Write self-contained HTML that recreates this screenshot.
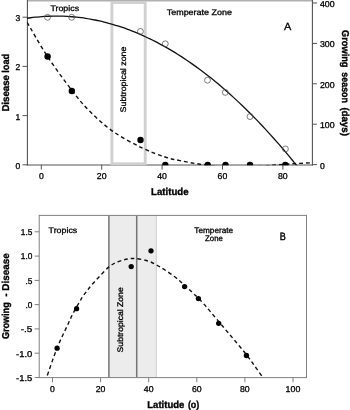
<!DOCTYPE html>
<html><head><meta charset="utf-8"><title>chart</title>
<style>
html,body{margin:0;padding:0;background:#fff;}
body{width:350px;height:410px;overflow:hidden;}
svg{display:block;will-change:transform;text-rendering:geometricPrecision;font-family:"Liberation Sans",sans-serif;}
.t{font-size:8.5px;fill:#000;stroke:#000;stroke-width:0.3px;}
.b{font-size:10.0px;font-weight:bold;fill:#000;stroke:#000;stroke-width:0.35px;}
.z{font-size:8.1px;fill:#000;stroke:#000;stroke-width:0.3px;}
.l{fill:#000;}
</style></head><body>
<svg width="350" height="410" viewBox="0 0 350 410">
<rect width="350" height="410" fill="#fff"/>
<defs>
<clipPath id="ca"><rect x="27.0" y="0" width="285.5" height="165.2"/></clipPath>
<clipPath id="cb"><rect x="39.2" y="215.4" width="267.3" height="162.2"/></clipPath>
</defs>
<!-- Plot A -->
<g stroke="#555" stroke-width="1" fill="none">
<path d="M27.0 0.6H312.5" stroke="#b0b0b0" stroke-width="2"/>
<path d="M26.7 165H312.8" stroke="#8c8c8c" stroke-width="1.3"/>
<path d="M27.4 0V165.6M312.4 0V165.6" stroke="#4d4d4d" stroke-width="1.05"/>
<path d="M22.5 164.8H27.0"/>
<path d="M22.5 115.6H27.0"/>
<path d="M22.5 66.4H27.0"/>
<path d="M22.5 17.2H27.0"/>
<path d="M312.5 164.6H317.0"/>
<path d="M312.5 124.2H317.0"/>
<path d="M312.5 83.8H317.0"/>
<path d="M312.5 43.4H317.0"/>
<path d="M312.5 3.0H317.0"/>
<path d="M41.3 164.8V169.6"/>
<path d="M101.7 164.8V169.6"/>
<path d="M162.1 164.8V169.6"/>
<path d="M222.5 164.8V169.6"/>
<path d="M282.9 164.8V169.6"/>
</g>
<rect x="111.9" y="2.5" width="33.3" height="161.3" fill="none" stroke="#d0d0d0" stroke-width="2.9"/>
<g clip-path="url(#ca)">
<path d="M26.00 18.42 C26.77 18.31 29.06 17.97 30.59 17.76 C32.12 17.56 33.66 17.38 35.19 17.22 C36.72 17.05 38.25 16.91 39.78 16.78 C41.31 16.65 42.84 16.54 44.37 16.45 C45.90 16.36 47.44 16.28 48.97 16.23 C50.50 16.17 52.03 16.13 53.56 16.12 C55.09 16.10 56.62 16.09 58.15 16.11 C59.68 16.13 61.21 16.16 62.75 16.22 C64.28 16.27 65.81 16.34 67.34 16.43 C68.87 16.52 70.40 16.63 71.93 16.75 C73.46 16.88 74.99 17.02 76.53 17.19 C78.06 17.35 79.59 17.53 81.12 17.73 C82.65 17.93 84.18 18.14 85.71 18.38 C87.24 18.61 88.77 18.86 90.31 19.14 C91.84 19.41 93.37 19.70 94.90 20.00 C96.43 20.31 97.96 20.63 99.49 20.98 C101.02 21.32 102.55 21.68 104.08 22.06 C105.62 22.44 107.15 22.84 108.68 23.26 C110.21 23.67 111.74 24.11 113.27 24.56 C114.80 25.01 116.33 25.48 117.86 25.97 C119.40 26.46 120.93 26.97 122.46 27.49 C123.99 28.02 125.52 28.56 127.05 29.12 C128.58 29.68 130.11 30.26 131.64 30.86 C133.18 31.45 134.71 32.07 136.24 32.70 C137.77 33.34 139.30 33.99 140.83 34.66 C142.36 35.33 143.89 36.02 145.42 36.72 C146.95 37.43 148.49 38.15 150.02 38.90 C151.55 39.64 153.08 40.40 154.61 41.18 C156.14 41.96 157.67 42.75 159.20 43.57 C160.73 44.38 162.27 45.22 163.80 46.07 C165.33 46.92 166.86 47.79 168.39 48.68 C169.92 49.56 171.45 50.47 172.98 51.39 C174.51 52.32 176.05 53.26 177.58 54.22 C179.11 55.18 180.64 56.16 182.17 57.15 C183.70 58.15 185.23 59.17 186.76 60.20 C188.29 61.23 189.82 62.28 191.36 63.35 C192.89 64.42 194.42 65.51 195.95 66.61 C197.48 67.72 199.01 68.84 200.54 69.98 C202.07 71.12 203.60 72.28 205.14 73.46 C206.67 74.64 208.20 75.83 209.73 77.05 C211.26 78.26 212.79 79.49 214.32 80.74 C215.85 82.00 217.38 83.26 218.92 84.55 C220.45 85.84 221.98 87.14 223.51 88.46 C225.04 89.79 226.57 91.13 228.10 92.49 C229.63 93.85 231.16 95.22 232.69 96.62 C234.23 98.01 235.76 99.43 237.29 100.86 C238.82 102.29 240.35 103.74 241.88 105.21 C243.41 106.68 244.94 108.16 246.47 109.67 C248.01 111.17 249.54 112.69 251.07 114.23 C252.60 115.78 254.13 117.33 255.66 118.91 C257.19 120.49 258.72 122.08 260.25 123.70 C261.79 125.31 263.32 126.94 264.85 128.59 C266.38 130.24 267.91 131.91 269.44 133.59 C270.97 135.28 272.50 136.98 274.03 138.70 C275.56 140.42 277.10 142.16 278.63 143.92 C280.16 145.68 281.69 147.46 283.22 149.25 C284.75 151.05 286.28 152.86 287.81 154.69 C289.34 156.52 290.88 158.37 292.41 160.24 C293.94 162.10 296.23 164.95 297.00 165.89" fill="none" stroke="#111" stroke-width="1.3"/>
<path d="M27.10 22.30 C30.50 28.00 40.02 45.13 47.50 56.50 C54.98 67.87 64.92 81.32 72.00 90.50 C79.08 99.68 83.17 104.78 90.00 111.60 C96.83 118.42 104.43 125.40 113.00 131.40 C121.57 137.40 132.73 143.33 141.40 147.60 C150.07 151.87 158.57 154.83 165.00 157.00 C171.43 159.17 174.17 159.40 180.00 160.60 C185.83 161.80 192.50 163.13 200.00 164.20 C207.50 165.27 216.67 166.53 225.00 167.00 C233.33 167.47 241.67 167.33 250.00 167.00 C258.33 166.67 267.50 165.57 275.00 165.00 C282.50 164.43 288.83 163.97 295.00 163.60 C301.17 163.23 309.17 162.93 312.00 162.80" fill="none" stroke="#111" stroke-width="1.4" stroke-dasharray="3.8 3.0"/>
</g>
<circle cx="47.5" cy="17.3" r="2.95" fill="none" stroke="#505050" stroke-width="0.75"/>
<circle cx="71.7" cy="17.3" r="2.95" fill="none" stroke="#505050" stroke-width="0.75"/>
<circle cx="140.4" cy="31.4" r="2.95" fill="none" stroke="#505050" stroke-width="0.75"/>
<circle cx="165.3" cy="43.8" r="2.95" fill="none" stroke="#505050" stroke-width="0.75"/>
<circle cx="207.5" cy="80.2" r="2.95" fill="none" stroke="#505050" stroke-width="0.75"/>
<circle cx="225.3" cy="92.4" r="2.95" fill="none" stroke="#505050" stroke-width="0.75"/>
<circle cx="250.0" cy="116.6" r="2.95" fill="none" stroke="#505050" stroke-width="0.75"/>
<circle cx="285.4" cy="148.9" r="2.95" fill="none" stroke="#505050" stroke-width="0.75"/>
<circle cx="47.6" cy="56.5" r="3.2" fill="#000" clip-path="url(#ca)"/>
<circle cx="71.8" cy="91.0" r="3.2" fill="#000" clip-path="url(#ca)"/>
<circle cx="140.5" cy="140.0" r="3.2" fill="#000" clip-path="url(#ca)"/>
<circle cx="165.3" cy="165.0" r="3.2" fill="#000" clip-path="url(#ca)"/>
<circle cx="207.7" cy="165.0" r="3.2" fill="#000" clip-path="url(#ca)"/>
<circle cx="225.5" cy="165.0" r="3.2" fill="#000" clip-path="url(#ca)"/>
<circle cx="250.0" cy="165.0" r="3.2" fill="#000" clip-path="url(#ca)"/>
<circle cx="285.3" cy="165.0" r="3.2" fill="#000" clip-path="url(#ca)"/>
<text class="t" x="20.2" y="168.8" text-anchor="end">0</text>
<text class="t" x="20.2" y="119.6" text-anchor="end">1</text>
<text class="t" x="20.2" y="70.4" text-anchor="end">2</text>
<text class="t" x="20.2" y="21.2" text-anchor="end">3</text>
<text class="t" x="319.9" y="168.6" textLength="4.8" lengthAdjust="spacingAndGlyphs">0</text>
<text class="t" x="319.9" y="128.2" textLength="14.7" lengthAdjust="spacingAndGlyphs">100</text>
<text class="t" x="319.9" y="87.8" textLength="14.7" lengthAdjust="spacingAndGlyphs">200</text>
<text class="t" x="319.9" y="47.4" textLength="14.7" lengthAdjust="spacingAndGlyphs">300</text>
<text class="t" x="319.9" y="7.0" textLength="14.7" lengthAdjust="spacingAndGlyphs">400</text>
<text class="t" x="38.9" y="179.3" textLength="4.8" lengthAdjust="spacingAndGlyphs">0</text>
<text class="t" x="96.8" y="179.3" textLength="9.7" lengthAdjust="spacingAndGlyphs">20</text>
<text class="t" x="157.2" y="179.3" textLength="9.7" lengthAdjust="spacingAndGlyphs">40</text>
<text class="t" x="217.6" y="179.3" textLength="9.7" lengthAdjust="spacingAndGlyphs">60</text>
<text class="t" x="278.0" y="179.3" textLength="9.7" lengthAdjust="spacingAndGlyphs">80</text>
<text class="b" x="151.1" y="195.4" textLength="37.4" lengthAdjust="spacingAndGlyphs">Latitude</text>
<text class="b" transform="translate(8.6 111.6) rotate(-90)" textLength="36.5" lengthAdjust="spacingAndGlyphs">Disease</text>
<text class="b" transform="translate(8.6 72.7) rotate(-90)" textLength="18.7" lengthAdjust="spacingAndGlyphs">load</text>
<text class="b" transform="translate(341.6 30.1) rotate(90)" textLength="37.4" lengthAdjust="spacingAndGlyphs">Growing</text>
<text class="b" transform="translate(341.6 72.3) rotate(90)" textLength="30.7" lengthAdjust="spacingAndGlyphs">season</text>
<text class="b" transform="translate(341.6 107.4) rotate(90)" textLength="28.5" lengthAdjust="spacingAndGlyphs">(days)</text>
<text class="z" x="50.4" y="11.4" textLength="28.7" lengthAdjust="spacingAndGlyphs">Tropics</text>
<text class="z" x="166.7" y="15.2" textLength="65.3" lengthAdjust="spacingAndGlyphs">Temperate Zone</text>
<text class="z" transform="translate(126.3 112.4) rotate(-90)" textLength="65.8" lengthAdjust="spacingAndGlyphs">Subtropical zone</text>
<text class="l" x="283.9" y="29.5" textLength="7.3" lengthAdjust="spacingAndGlyphs" style="font-size:10.5px;stroke:#000;stroke-width:0.3px;">A</text>
<!-- Plot B -->
<rect x="109.3" y="215.4" width="47" height="162.2" fill="#ececec"/>
<path d="M156.3 215.4V377.6" stroke="#cfcfcf" stroke-width="1"/>
<path d="M108.9 215.4V377.6M136.7 215.4V377.6" stroke="#747474" stroke-width="1.5"/>
<g clip-path="url(#cb)">
<path d="M44.50 383.50 C44.85 382.50 44.52 383.38 46.60 377.50 C48.68 371.62 53.55 356.83 57.00 348.20 C60.45 339.57 64.67 331.42 67.30 325.70 C69.93 319.98 70.77 317.85 72.80 313.90 C74.83 309.95 77.77 305.00 79.50 302.00 C81.23 299.00 81.88 297.83 83.20 295.90 C84.52 293.97 85.98 292.23 87.40 290.40 C88.82 288.57 89.83 287.07 91.70 284.90 C93.57 282.73 95.73 280.40 98.60 277.40 C101.47 274.40 105.62 269.52 108.90 266.90 C112.18 264.28 115.17 263.02 118.30 261.70 C121.43 260.38 124.83 259.52 127.70 259.00 C130.57 258.48 132.12 258.27 135.50 258.60 C138.88 258.93 144.48 259.93 148.00 261.00 C151.52 262.07 153.77 263.50 156.60 265.00 C159.43 266.50 161.93 268.00 165.00 270.00 C168.07 272.00 172.17 274.83 175.00 277.00 C177.83 279.17 179.83 281.10 182.00 283.00 C184.17 284.90 186.00 286.57 188.00 288.40 C190.00 290.23 191.58 291.65 194.00 294.00 C196.42 296.35 199.60 299.37 202.50 302.50 C205.40 305.63 208.00 308.80 211.40 312.80 C214.80 316.80 219.08 321.97 222.90 326.50 C226.72 331.03 230.50 335.47 234.30 340.00 C238.10 344.53 242.27 349.32 245.70 353.70 C249.13 358.08 252.02 362.30 254.90 366.30 C257.78 370.30 260.98 374.83 263.00 377.70 C265.02 380.57 266.33 382.53 267.00 383.50" fill="none" stroke="#111" stroke-width="1.4" stroke-dasharray="3.8 3.0" stroke-dashoffset="-2"/>
</g>
<g stroke="#808080" stroke-width="1" fill="none">
<rect x="39.2" y="215.4" width="267.3" height="162.2"/>
<path d="M34.7 231.8H39.2"/>
<path d="M34.7 256.1H39.2"/>
<path d="M34.7 280.4H39.2"/>
<path d="M34.7 304.6H39.2"/>
<path d="M34.7 328.9H39.2"/>
<path d="M34.7 353.2H39.2"/>
<path d="M34.7 377.5H39.2"/>
<path d="M52.5 377.6V382.4"/>
<path d="M100.6 377.6V382.4"/>
<path d="M148.7 377.6V382.4"/>
<path d="M196.8 377.6V382.4"/>
<path d="M244.9 377.6V382.4"/>
<path d="M293.0 377.6V382.4"/>
</g>
<circle cx="57.1" cy="348.2" r="2.65" fill="#000"/>
<circle cx="76.6" cy="308.7" r="2.65" fill="#000"/>
<circle cx="131.2" cy="266.6" r="2.65" fill="#000"/>
<circle cx="151.0" cy="250.8" r="2.65" fill="#000"/>
<circle cx="184.6" cy="286.6" r="2.65" fill="#000"/>
<circle cx="198.4" cy="298.6" r="2.65" fill="#000"/>
<circle cx="218.7" cy="323.3" r="2.65" fill="#000"/>
<circle cx="246.4" cy="355.5" r="2.65" fill="#000"/>
<text class="t" x="20.8" y="235.1" textLength="11.6" lengthAdjust="spacingAndGlyphs">1.5</text>
<text class="t" x="20.8" y="259.4" textLength="11.6" lengthAdjust="spacingAndGlyphs">1.0</text>
<text class="t" x="25.5" y="283.7" textLength="6.9" lengthAdjust="spacingAndGlyphs">.5</text>
<text class="t" x="25.5" y="307.9" textLength="6.9" lengthAdjust="spacingAndGlyphs">.0</text>
<text class="t" x="20.8" y="332.2" textLength="11.6" lengthAdjust="spacingAndGlyphs">-.5</text>
<text class="t" x="16.1" y="356.5" textLength="16.3" lengthAdjust="spacingAndGlyphs">-1.0</text>
<text class="t" x="16.1" y="380.8" textLength="16.3" lengthAdjust="spacingAndGlyphs">-1.5</text>
<text class="t" x="50.1" y="392.2" textLength="4.8" lengthAdjust="spacingAndGlyphs">0</text>
<text class="t" x="95.7" y="392.2" textLength="9.7" lengthAdjust="spacingAndGlyphs">20</text>
<text class="t" x="143.8" y="392.2" textLength="9.7" lengthAdjust="spacingAndGlyphs">40</text>
<text class="t" x="191.9" y="392.2" textLength="9.7" lengthAdjust="spacingAndGlyphs">60</text>
<text class="t" x="240.0" y="392.2" textLength="9.7" lengthAdjust="spacingAndGlyphs">80</text>
<text class="t" x="285.6" y="392.2" textLength="14.7" lengthAdjust="spacingAndGlyphs">100</text>
<text class="b" x="147.3" y="407.6" textLength="37.0" lengthAdjust="spacingAndGlyphs">Latitude</text>
<text class="b" x="187.9" y="407.6" textLength="11.4" lengthAdjust="spacingAndGlyphs">(o)</text>
<text class="b" transform="translate(8.8 339.1) rotate(-90)" textLength="36.8" lengthAdjust="spacingAndGlyphs">Growing</text>
<text class="b" transform="translate(8.8 296.7) rotate(-90)" textLength="43.4" lengthAdjust="spacingAndGlyphs">- Disease</text>
<text class="z" x="48.6" y="233.2" textLength="28.7" lengthAdjust="spacingAndGlyphs">Tropics</text>
<text class="z" x="194.3" y="232.9" textLength="38.8" lengthAdjust="spacingAndGlyphs" style="font-size:8.0px;">Temperate</text>
<text class="z" x="205.1" y="240.9" textLength="17.7" lengthAdjust="spacingAndGlyphs" style="font-size:8.0px;">Zone</text>
<text class="z" transform="translate(122.6 352.4) rotate(-90)" textLength="65.1" lengthAdjust="spacingAndGlyphs">Subtropical Zone</text>
<text class="l" x="279.7" y="239.6" textLength="6.0" lengthAdjust="spacingAndGlyphs" style="font-size:10.5px;stroke:#000;stroke-width:0.45px;">B</text>
</svg></body></html>
